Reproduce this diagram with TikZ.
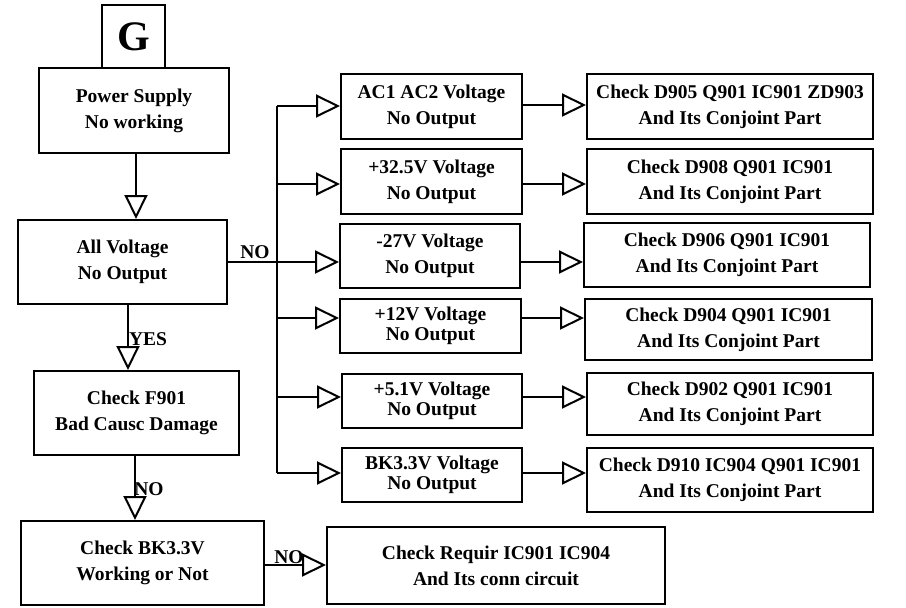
\documentclass[tikz,border=0pt]{standalone}
\usepackage{fontspec}
\setmainfont{Liberation Serif}
\usetikzlibrary{arrows.meta}
\tikzset{
  box/.style={draw, line width=2pt, inner sep=0pt, align=center,
    font={\fontsize{19.5}{26}\selectfont\bfseries}},
  tight/.style={font={\fontsize{19.5}{20.5}\selectfont\bfseries}},
  conn/.style={line width=2pt, -{Triangle[open, length=24pt, width=23pt, line width=2pt]}},
  plain/.style={line width=2pt},
  lbl/.style={inner sep=0pt, font={\fontsize{19.5}{22}\selectfont\bfseries}}
}
\newcommand{\rbox}[7][]{%
  \node[box,#1, minimum width={#4-#2}, minimum height={#5-#3}] (#6) at ({(#2+#4)/2},{(#3+#5)/2}) {#7};}
\begin{document}
\begin{tikzpicture}[x=1pt,y=-1pt]
\useasboundingbox (0,0) rectangle (906,608);
% left column
\rbox[font={\fontsize{42}{44}\selectfont\bfseries}]{102}{5}{165}{68}{g}{G}
\rbox{39}{68}{229}{153}{ps}{Power Supply\\No working}
\rbox{18}{220}{227}{304}{av}{All Voltage\\No Output}
\rbox{34}{371}{239}{455}{f901}{Check F901\\Bad Causc Damage}
\rbox{21}{521}{264}{605}{bk}{Check BK3.3V\\Working or Not}
\rbox{327}{527}{665}{604}{req}{Check Requir IC901 IC904\\And Its conn circuit}
% middle column
\rbox{341}{74}{522}{139}{m1}{AC1 AC2 Voltage\\No Output}
\rbox{341}{149}{522}{214}{m2}{+32.5V Voltage\\No Output}
\rbox{340}{224}{520}{288}{m3}{-27V Voltage\\No Output}
\rbox[tight]{340}{299}{521}{353}{m4}{+12V Voltage\\No Output}
\rbox[tight]{342}{374}{522}{428}{m5}{+5.1V Voltage\\No Output}
\rbox[tight]{342}{448}{522}{502}{m6}{BK3.3V Voltage\\No Output}
% right column
\rbox{587}{74}{873}{139}{r1}{Check D905 Q901 IC901 ZD903\\And Its Conjoint Part}
\rbox{587}{149}{873}{214}{r2}{Check D908 Q901 IC901\\And Its Conjoint Part}
\rbox{584}{223}{870}{287}{r3}{Check D906 Q901 IC901\\And Its Conjoint Part}
\rbox{585}{299}{872}{360}{r4}{Check D904 Q901 IC901\\And Its Conjoint Part}
\rbox{587}{373}{873}{435}{r5}{Check D902 Q901 IC901\\And Its Conjoint Part}
\rbox{587}{448}{873}{512}{r6}{Check D910 IC904 Q901 IC901\\And Its Conjoint Part}
% bus coordinates
\coordinate (bt) at (277,106);
\coordinate (bb) at (277,473);
\coordinate (bj) at (277,262);
% vertical connectors
\draw[conn] ([xshift=2pt]ps.south) -- ([xshift=2pt]ps.south |- av.north);
\draw[conn] ([xshift=5.5pt]av.south) -- ([xshift=5.5pt]av.south |- f901.north);
\draw[conn] ([xshift=-1.5pt]f901.south) -- ([xshift=-1.5pt]f901.south |- bk.north);
\draw[conn] (bk.east |- 0,565) -- (req.west |- 0,565);
% bus
\draw[plain] (av.east |- bj) -- (bj);
\draw[plain] (bt) -- (bb);
\foreach \m/\y in {m1/106, m2/184, m3/262, m4/318, m5/397, m6/473}{
  \draw[conn] (277,\y) -- (\m.west |- 0,\y);
}
\foreach \m/\r/\y in {m1/r1/105, m2/r2/184, m3/r3/262, m4/r4/318, m5/r5/397, m6/r6/473}{
  \draw[conn] (\m.east |- 0,\y) -- (\r.west |- 0,\y);
}
% labels
\node[lbl, anchor=south] (lno1) at (255,259) {NO};
\node[lbl] (lyes) at (148,339) {YES};
\node[lbl] (lno2) at (149,489) {NO};
\node[lbl] (lno3) at (289,557) {NO};
\end{tikzpicture}
\end{document}
